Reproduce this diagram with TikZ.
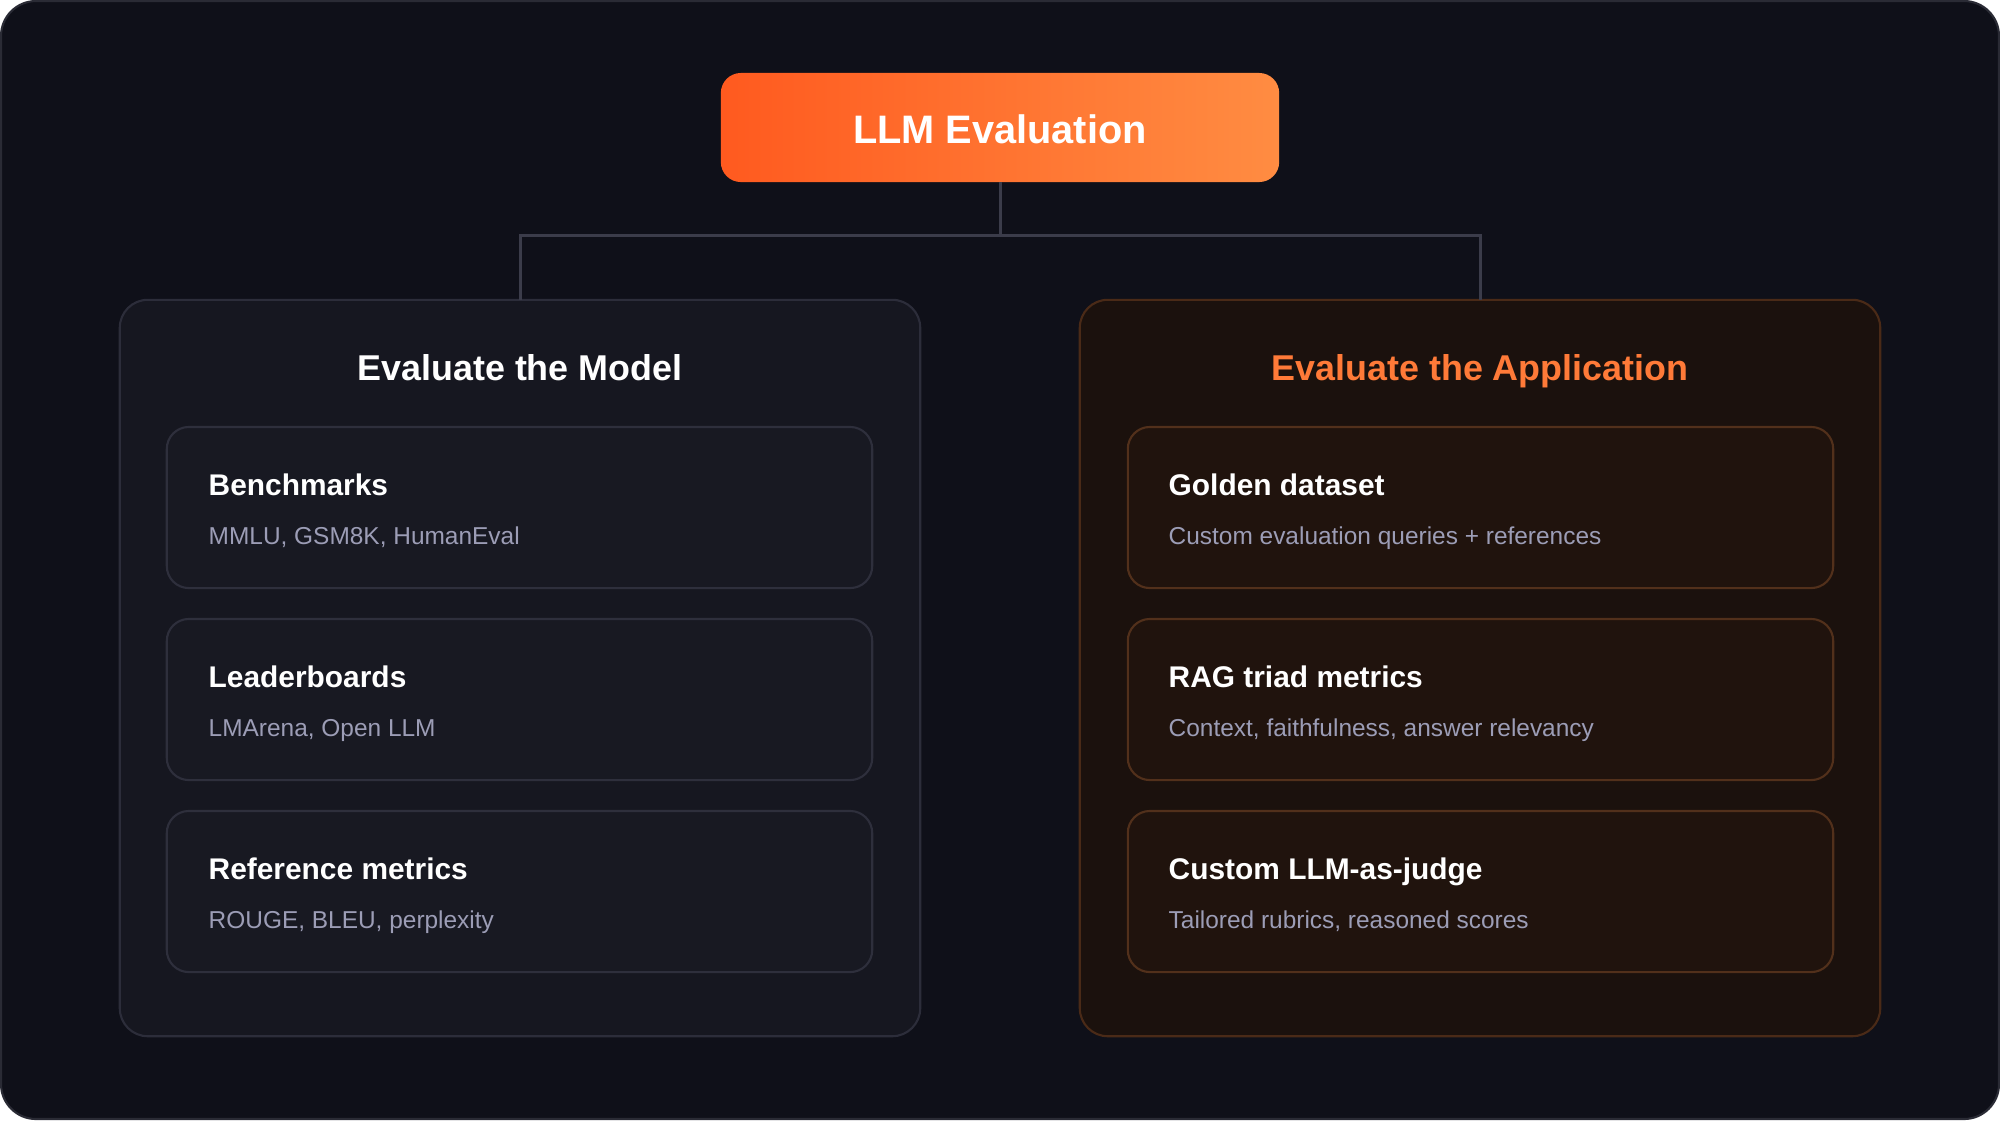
\documentclass[tikz,border=0pt]{standalone}
\usepackage{fontspec}
\setmainfont{Liberation Sans}
\definecolor{bgc}{HTML}{0F1019}
\definecolor{framec}{HTML}{2A2B35}
\definecolor{lpfill}{HTML}{161720}
\definecolor{lpdraw}{HTML}{2C2D3A}
\definecolor{lcfill}{HTML}{181922}
\definecolor{lcdraw}{HTML}{2E2F3C}
\definecolor{rpfill}{HTML}{1B110D}
\definecolor{rpdraw}{HTML}{4A2A17}
\definecolor{rcfill}{HTML}{20130D}
\definecolor{rcdraw}{HTML}{52301B}
\definecolor{linec}{HTML}{3B3C4A}
\definecolor{subc}{HTML}{9C9DB6}
\definecolor{orangec}{HTML}{FF7A38}
\definecolor{gradl}{HTML}{FF5A1F}
\definecolor{gradr}{HTML}{FF8C42}
\tikzset{
  panelbox/.style={rectangle, rounded corners=0.28cm, line width=0.6pt, inner sep=0pt, outer sep=0pt, minimum width=8cm, minimum height=7.36cm},
  cardbox/.style={rectangle, rounded corners=0.22cm, line width=0.6pt, inner sep=0pt, outer sep=0pt, minimum width=7.05cm, minimum height=1.61cm},
  cardtitle/.style={anchor=base west, inner sep=0pt, text=white, font=\fontsize{8.5}{10}\selectfont\bfseries},
  cardsub/.style={anchor=base west, inner sep=0pt, text=subc, font=\fontsize{6.95}{9}\selectfont},
  paneltitle/.style={anchor=base, inner sep=0pt, font=\fontsize{10.2}{12}\selectfont\bfseries},
  conn/.style={draw=linec, line width=0.85pt}
}
\begin{document}
\begin{tikzpicture}[x=0.01cm, y=-0.01cm]
\useasboundingbox (0,0) rectangle (2000,1120);
\fill[white] (0,0) rectangle (2000,1120);
\draw[fill=bgc, draw=framec, line width=0.6pt, rounded corners=0.35cm] (1,1) rectangle (1999,1119);

% top node
\node (top) [rectangle, rounded corners=0.2cm, inner sep=0pt, outer sep=0pt, minimum width=5.58cm, minimum height=1.09cm, left color=gradl, right color=gradr, draw=none] at (1000,127.5) {};
\node (toplabel) [anchor=base, inner sep=0pt, text=white, font=\fontsize{11.3}{13}\selectfont\bfseries] at (1000,143) {LLM Evaluation};

% panels
\node (pm) [panelbox, fill=lpfill, draw=lpdraw] at (520,668) {};
\node (pa) [panelbox, fill=rpfill, draw=rpdraw] at (1480,668) {};

% connectors
\coordinate (j) at (1000,235);
\draw[conn] (top.south) -- (j) -| (pm.north);
\draw[conn] (j) -| (pa.north);

% panel titles
\node (pmt) [paneltitle, text=white] at (520,380) {Evaluate the Model};
\node (pat) [paneltitle, text=orangec] at (1480,380) {Evaluate the Application};

% left cards
\node (c1) [cardbox, fill=lcfill, draw=lcdraw] at (519.5,507.5) {};
\node (c2) [cardbox, fill=lcfill, draw=lcdraw] at (519.5,699.5) {};
\node (c3) [cardbox, fill=lcfill, draw=lcdraw] at (519.5,891.5) {};
\node (c1t) [cardtitle] at (208,495) {Benchmarks};
\node (c1s) [cardsub] at (208,544) {MMLU, GSM8K, HumanEval};
\node (c2t) [cardtitle] at (208,687) {Leaderboards};
\node (c2s) [cardsub] at (208,736) {LMArena, Open LLM};
\node (c3t) [cardtitle] at (208,879) {Reference metrics};
\node (c3s) [cardsub] at (208,928) {ROUGE, BLEU, perplexity};

% right cards
\node (d1) [cardbox, fill=rcfill, draw=rcdraw] at (1480.5,507.5) {};
\node (d2) [cardbox, fill=rcfill, draw=rcdraw] at (1480.5,699.5) {};
\node (d3) [cardbox, fill=rcfill, draw=rcdraw] at (1480.5,891.5) {};
\node (d1t) [cardtitle] at (1168,495) {Golden dataset};
\node (d1s) [cardsub] at (1168,544) {Custom evaluation queries + references};
\node (d2t) [cardtitle] at (1168,687) {RAG triad metrics};
\node (d2s) [cardsub] at (1168,736) {Context, faithfulness, answer relevancy};
\node (d3t) [cardtitle] at (1168,879) {Custom LLM-as-judge};
\node (d3s) [cardsub] at (1168,928) {Tailored rubrics, reasoned scores};
\end{tikzpicture}
\end{document}
